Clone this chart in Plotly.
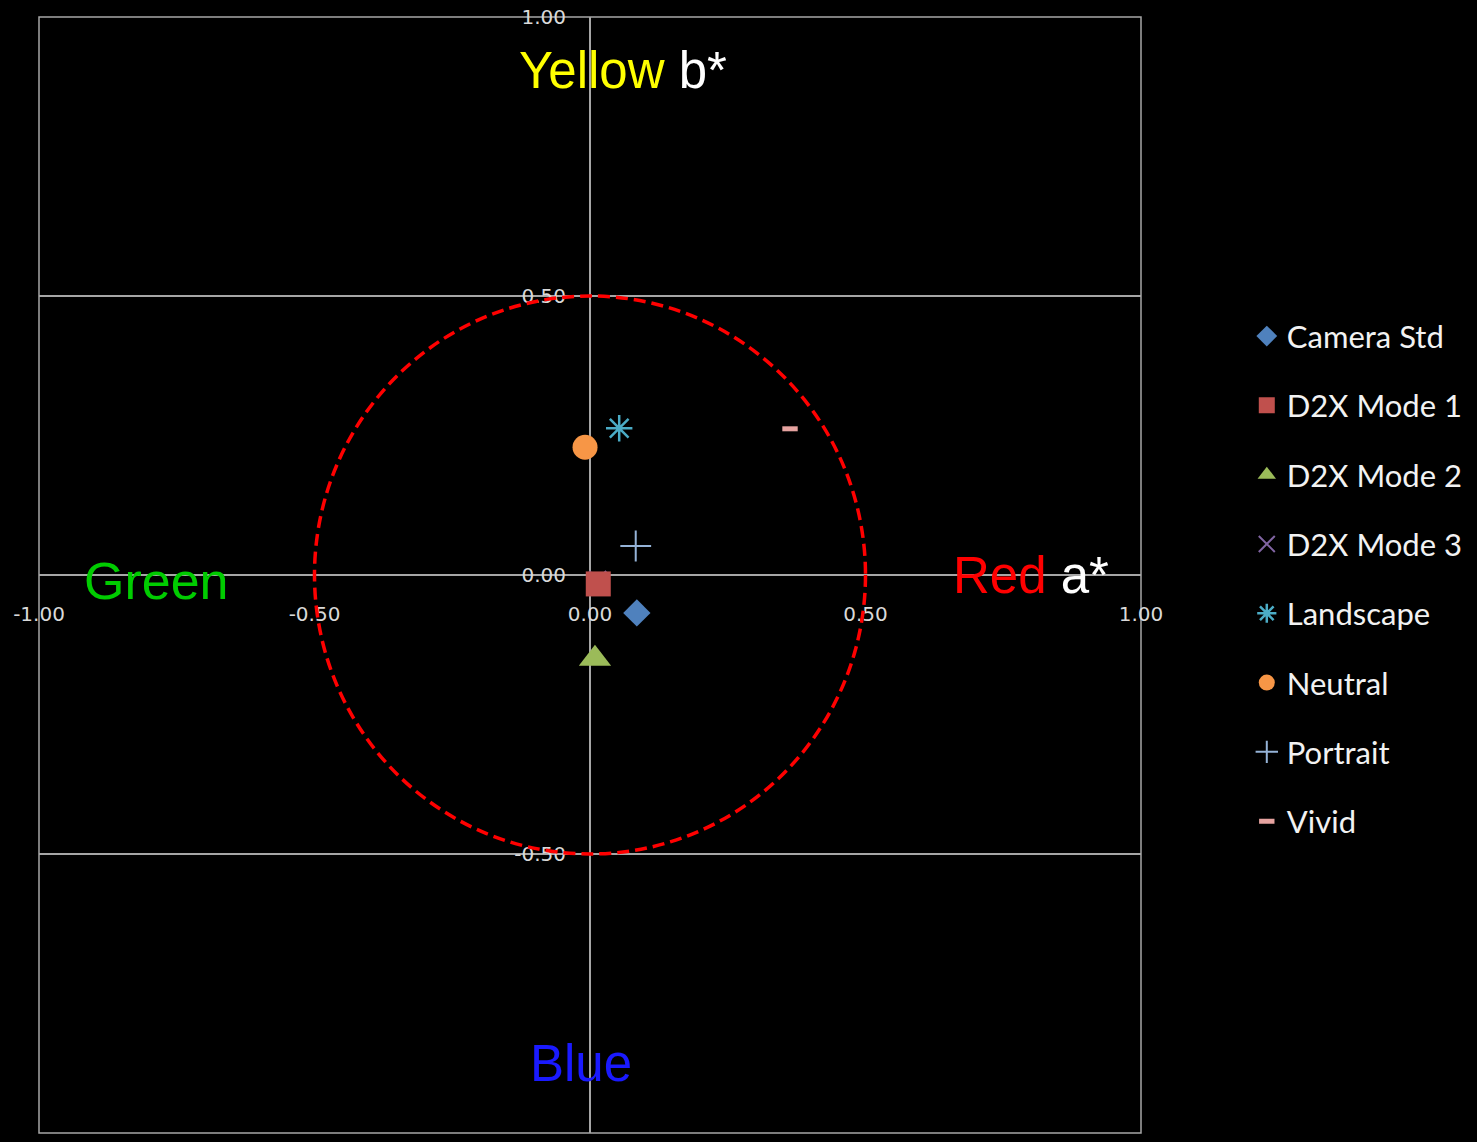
import plotly.graph_objects as go

# ---- data ----
series_names = ["Camera Std", "D2X Mode 1", "D2X Mode 2", "D2X Mode 3",
                "Landscape", "Neutral", "Portrait", "Vivid"]
a_values = [0.085, 0.015, 0.009, 0.014, 0.053, -0.009, 0.083, 0.363]
b_values = [-0.068, -0.016, -0.150, -0.008, 0.263, 0.229, 0.052, 0.262]
tick_values = [-1.0, -0.5, 0.0, 0.5, 1.0]
tick_labels = ["-1.00", "-0.50", "0.00", "0.50", "1.00"]
circle_radius = 0.5

# ---- styles ----
styles = {
    "Camera Std": dict(symbol="diamond", color="#4f81bd", size=21, line=dict(width=0)),
    "D2X Mode 1": dict(symbol="square", color="#c0504d", size=25, line=dict(width=0)),
    "D2X Mode 2": dict(symbol="triangle-up", color="#9bbb59", size=28, line=dict(width=0)),
    "D2X Mode 3": dict(symbol="x-thin-open", color="#8064a2", size=17, line=dict(width=2, color="#8064a2")),
    "Landscape": dict(symbol="asterisk-open", color="#4bacc6", size=22, line=dict(width=2.5, color="#4bacc6")),
    "Neutral": dict(symbol="circle", color="#f79646", size=25, line=dict(width=0)),
    "Portrait": dict(symbol="cross-thin-open", color="#95b3d7", size=22, line=dict(width=2, color="#95b3d7")),
    "Vivid": dict(symbol="line-ew-open", color="#e6a3a0", size=11, line=dict(width=5, color="#e6a3a0")),
}

fig = go.Figure()

# draw Mode 3 first so it sits behind the Mode 1 square (as in the reference)
draw_order = [3, 0, 1, 2, 4, 5, 6, 7]
for i in draw_order:
    name = series_names[i]
    fig.add_trace(go.Scatter(
        x=[a_values[i]], y=[b_values[i]], mode="markers", name=name,
        marker=styles[name], legendrank=i + 1, legendgroup=name,
    ))

grid_col = "#a6a6a6"
tick_font = dict(family="DejaVu Sans", size=20, color="#d9d9d9")

fig.update_layout(
    width=1477, height=1142,
    paper_bgcolor="black", plot_bgcolor="black",
    margin=dict(l=39, r=336, t=17, b=9, autoexpand=False),
    showlegend=True,
    legend=dict(x=1.096, y=0.738, xanchor="left", yanchor="top",
                font=dict(family="Lato", size=31, color="#f2f2f2"),
                bgcolor="rgba(0,0,0,0)", tracegroupgap=26, itemwidth=30),
    xaxis=dict(range=[-1, 1], anchor="free", position=0.5, automargin=False,
               tickvals=tick_values, ticktext=tick_labels, ticks="",
               showgrid=False, zeroline=True, zerolinecolor=grid_col, zerolinewidth=1.5,
               showline=False, tickfont=tick_font, ticklabelstandoff=25),
    yaxis=dict(range=[-1, 1], anchor="free", position=0.5, automargin=False,
               tickvals=tick_values, ticktext=tick_labels, ticks="",
               showgrid=True, gridcolor=grid_col, gridwidth=1.5,
               zeroline=True, zerolinecolor=grid_col, zerolinewidth=1.5,
               showline=False, tickfont=tick_font, ticklabelstandoff=24),
    shapes=[
        dict(type="rect", xref="paper", yref="paper", x0=0, x1=1, y0=0, y1=1,
             line=dict(color=grid_col, width=1.5), layer="below"),
        dict(type="circle", xref="x", yref="y",
             x0=-circle_radius, x1=circle_radius, y0=-circle_radius, y1=circle_radius,
             line=dict(color="#ff0000", width=3.5, dash="12px,6px"), layer="above"),
    ],
    annotations=[
        dict(x=0.06, y=0.905, xref="x", yref="y", showarrow=False,
             text="<span style='color:#ffff00'>Yellow</span> b*",
             font=dict(family="Liberation Sans", size=51, color="white")),
        dict(x=-0.786, y=-0.01, xref="x", yref="y", showarrow=False,
             text="Green",
             font=dict(family="Liberation Sans", size=52, color="#00cc00")),
        dict(x=0.8, y=0.0, xref="x", yref="y", showarrow=False,
             text="<span style='color:#ff0000'>Red</span> a*",
             font=dict(family="Liberation Sans", size=51, color="white")),
        dict(x=-0.016, y=-0.875, xref="x", yref="y", showarrow=False,
             text="Blue",
             font=dict(family="Liberation Sans", size=51, color="#1a1aff")),
    ],
)

fig.write_html(
    "out.html",
    config={"displayModeBar": False},
    post_script="document.body.style.margin='0';document.body.style.background='black';"
                "document.documentElement.style.background='black';",
)
